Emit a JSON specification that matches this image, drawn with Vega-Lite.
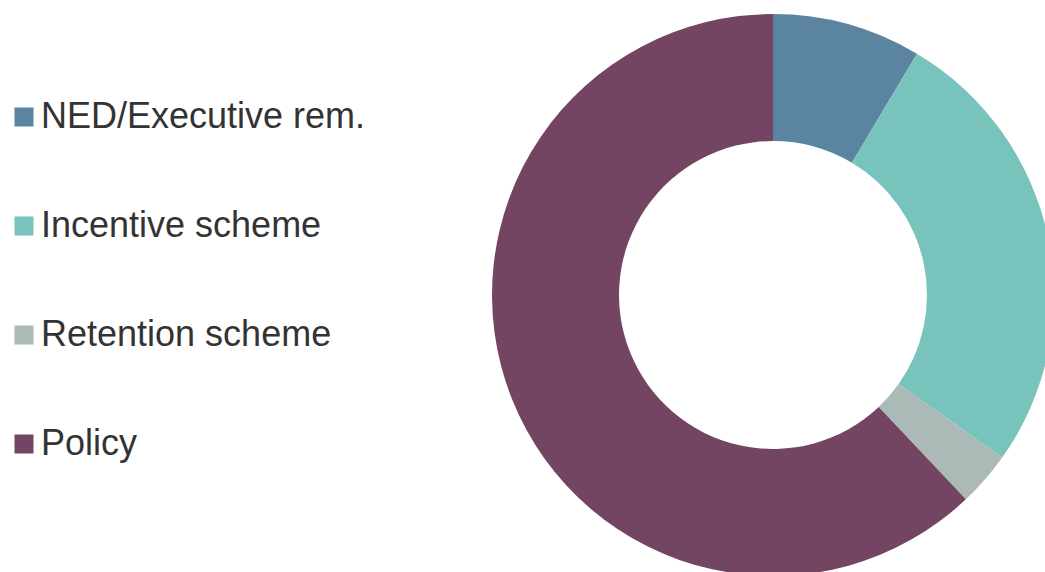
{
  "$schema": "https://vega.github.io/schema/vega-lite/v6.json",
  "autosize": {"type": "none"},
  "width": 544,
  "height": 590,
  "padding": {"left": 501, "top": 0, "right": 0, "bottom": 0},
  "background": "white",
  "config": {"view": {"stroke": null}},
  "data": {
    "values": [
      {"category": "NED/Executive rem.", "share": 8.56, "ord": 1},
      {"category": "Incentive scheme", "share": 26.26, "ord": 2},
      {"category": "Retention scheme", "share": 3.14, "ord": 3},
      {"category": "Policy", "share": 62.04, "ord": 4}
    ]
  },
  "mark": {"type": "arc", "outerRadius": 281, "innerRadius": 154, "stroke": null},
  "encoding": {
    "theta": {"field": "share", "type": "quantitative", "stack": true},
    "order": {"field": "ord", "type": "quantitative"},
    "color": {
      "field": "category",
      "type": "nominal",
      "sort": ["NED/Executive rem.", "Incentive scheme", "Retention scheme", "Policy"],
      "scale": {
        "domain": ["NED/Executive rem.", "Incentive scheme", "Retention scheme", "Policy"],
        "range": ["#5B84A0", "#78C4BC", "#ABBAB7", "#734563"]
      },
      "legend": {
        "title": null,
        "orient": "none",
        "legendX": -495,
        "legendY": 99,
        "padding": 0,
        "symbolType": "square",
        "symbolSize": 361,
        "symbolStrokeWidth": 0,
        "symbolOpacity": 1,
        "labelFont": "Liberation Sans",
        "labelFontSize": 36,
        "labelColor": "#333333",
        "labelOffset": -1,
        "labelLimit": 600,
        "rowPadding": 73
      }
    }
  }
}
